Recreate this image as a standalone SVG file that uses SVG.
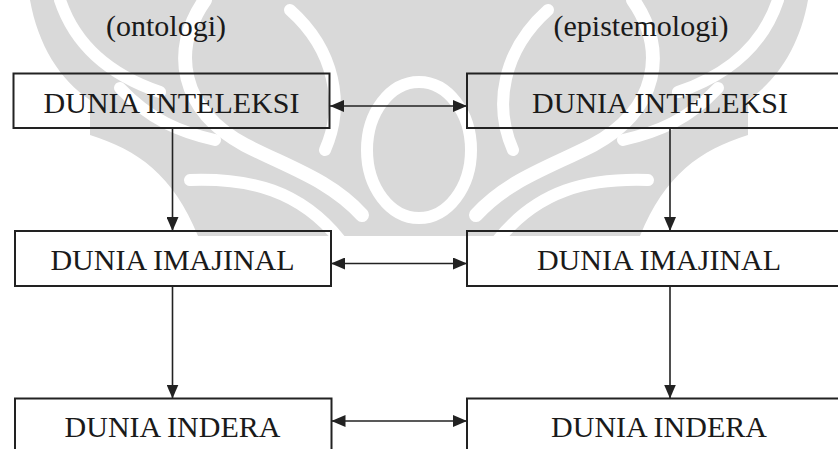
<svg xmlns="http://www.w3.org/2000/svg" width="838" height="449" viewBox="0 0 838 449">
<style>
.box{fill:none;stroke:#222;stroke-width:2}
.t{font-family:"Liberation Serif","Times New Roman",serif;font-size:30px;fill:#1a1a1a;text-anchor:middle}
.c{fill:none;stroke:#222;stroke-width:1.6}
.gap{fill:none;stroke:#fff;stroke-linecap:round}
</style>
<defs>
<marker id="ah" markerUnits="userSpaceOnUse" viewBox="0 0 14 12" refX="14" refY="6" markerWidth="14" markerHeight="12" orient="auto-start-reverse">
<path d="M0,0 L14,6 L0,12 z" fill="#222"/>
</marker>
<g id="gaps">
<path class="gap" stroke-width="12" d="M60 0 C75 45 110 75 160 92"/>
<path class="gap" stroke-width="14" d="M205 0 C170 50 180 110 245 145 C290 168 330 180 362 215"/>
<path class="gap" stroke-width="12" d="M120 88 C150 120 180 132 215 140"/>
<path class="gap" stroke-width="12" d="M290 10 C335 50 345 105 325 150"/>
<path class="gap" stroke-width="12" d="M190 180 C250 178 300 190 340 240"/>
</g>
</defs>
<rect width="838" height="449" fill="#fff"/>
<g id="watermark">
<path fill="#d9d9d9" d="M30 0 L808 0 C800 45 778 80 748 100 L748 135 C700 150 665 175 640 236 L198 236 C173 175 138 150 90 135 L90 100 C60 80 38 45 30 0 Z"/>
<use href="#gaps"/>
<use href="#gaps" transform="translate(838 0) scale(-1 1)"/>
<ellipse cx="419" cy="150" rx="52" ry="68" fill="none" stroke="#fff" stroke-width="12"/>
</g>
<g id="connectors">
<line class="c" x1="172.5" y1="128" x2="172.5" y2="231" marker-end="url(#ah)"/>
<line class="c" x1="670" y1="128" x2="670" y2="231" marker-end="url(#ah)"/>
<line class="c" x1="172.5" y1="286" x2="172.5" y2="398.5" marker-end="url(#ah)"/>
<line class="c" x1="670" y1="286" x2="670" y2="398.5" marker-end="url(#ah)"/>
<line class="c" x1="330" y1="106" x2="467" y2="106" marker-start="url(#ah)" marker-end="url(#ah)"/>
<line class="c" x1="331" y1="263.5" x2="467" y2="263.5" marker-start="url(#ah)" marker-end="url(#ah)"/>
<line class="c" x1="331.5" y1="421" x2="467" y2="421" marker-start="url(#ah)" marker-end="url(#ah)"/>
</g>
<g id="label-ontologi"><text class="t" x="166" y="36">(ontologi)</text></g>
<g id="label-epistemologi"><text class="t" x="641" y="36">(epistemologi)</text></g>
<g id="onto-inteleksi">
<rect class="box" x="13.5" y="73.5" width="316" height="54.5"/>
<text class="t" x="171.5" y="113">DUNIA INTELEKSI</text>
</g>
<g id="epis-inteleksi">
<rect class="box" x="467" y="73.5" width="386" height="54.5"/>
<text class="t" x="660" y="113">DUNIA INTELEKSI</text>
</g>
<g id="onto-imajinal">
<rect class="box" x="15" y="231" width="316" height="55"/>
<text class="t" x="172.5" y="270">DUNIA IMAJINAL</text>
</g>
<g id="epis-imajinal">
<rect class="box" x="467" y="231" width="386" height="55"/>
<text class="t" x="659" y="270">DUNIA IMAJINAL</text>
</g>
<g id="onto-indera">
<rect class="box" x="15" y="398.5" width="316.5" height="55"/>
<text class="t" x="172.5" y="437">DUNIA INDERA</text>
</g>
<g id="epis-indera">
<rect class="box" x="467" y="398.5" width="386" height="55"/>
<text class="t" x="659" y="437">DUNIA INDERA</text>
</g>
</svg>
